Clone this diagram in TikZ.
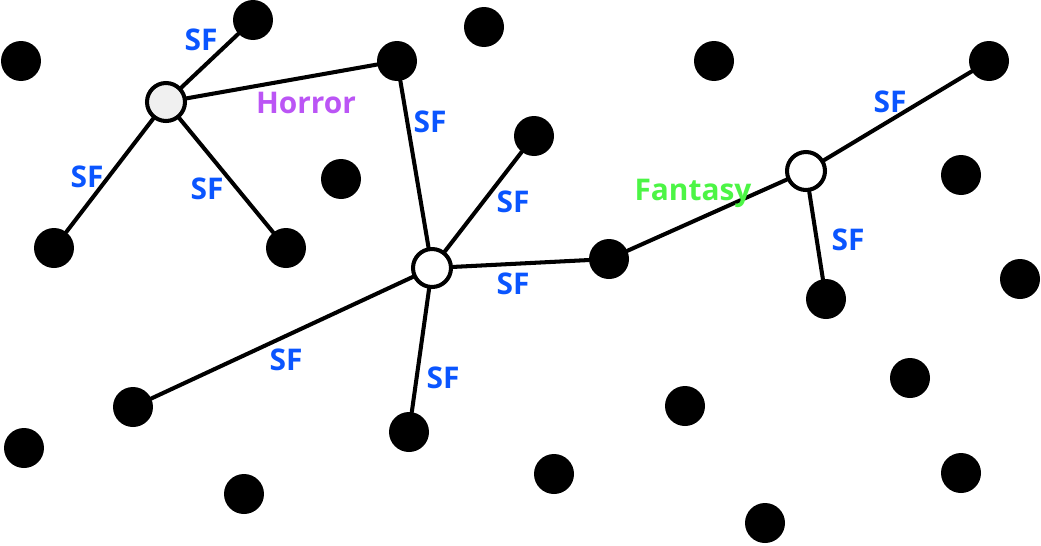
\documentclass[tikz,border=0pt]{standalone}
\usepackage{fontspec}
\setmainfont{Open Sans}
\usepackage{xcolor}
\definecolor{sfblue}{HTML}{0A55FF}
\definecolor{horrorpurple}{HTML}{BB55F5}
\definecolor{fantasygreen}{HTML}{4CF545}
\tikzset{
  every picture/.style={line join=round, line cap=round},
  dot/.style={circle, fill=black, inner sep=0pt, minimum size=0.8cm},
  hub/.style={circle, draw=black, fill=white, line width=2.3pt, inner sep=0pt, minimum size=0.76cm},
  link/.style={line width=2.3pt},
  lab/.style={font=\fontsize{17}{17}\selectfont\bfseries, inner sep=0pt},
}

\begin{document}
\begin{tikzpicture}[x=0.02cm,y=-0.02cm]
\useasboundingbox (0,0) rectangle (1041,545);
% the black dots
\foreach \n/\x/\y in {d1/21/61, d2/253/20, d3/484/27, d4/397/61, d5/714/61,
  d6/989/61, d7/534/136, d8/341/179, d9/961/175, d10/54/248, d11/286/248,
  d12/609/259, d13/1020/279, d14/826/299, d15/910/378, d16/133/407,
  d17/685/406, d18/409/432, d19/24/448, d20/554/474, d21/961/473,
  d22/244/494, d23/765/523}
  \node[dot] (\n) at (\x,\y) {};
% the open hubs
\node[hub, fill=black!6] (hA) at (166,102) {};
\node[hub] (hB) at (432,268) {};
\node[hub] (hC) at (806,171) {};
% links
\draw[link] (hA)--(d2) (hA)--(d4) (hA)--(d10) (hA)--(d11);
\draw[link] (d4)--(hB) (hB)--(d7) (hB)--(d12) (hB)--(d16) (hB)--(d18);
\draw[link] (d12)--(hC) (hC)--(d6) (hC)--(d14);
% labels
\node[lab, text=sfblue] (sf1) at (201,40) {SF};
\node[lab, text=horrorpurple] (horror) at (306,103) {Horror};
\node[lab, text=sfblue] (sf2) at (87,177) {SF};
\node[lab, text=sfblue] (sf3) at (207,189) {SF};
\node[lab, text=sfblue] (sf4) at (430,122) {SF};
\node[lab, text=sfblue] (sf5) at (513,202) {SF};
\node[lab, text=sfblue] (sf6) at (513,284) {SF};
\node[lab, text=sfblue] (sf7) at (286,360) {SF};
\node[lab, text=sfblue] (sf8) at (443,378) {SF};
\node[lab, text=fantasygreen] (fantasy) at (693,193) {Fantasy};
\node[lab, text=sfblue] (sf9) at (890,102) {SF};
\node[lab, text=sfblue] (sf10) at (848,240) {SF};
\end{tikzpicture}
\end{document}
